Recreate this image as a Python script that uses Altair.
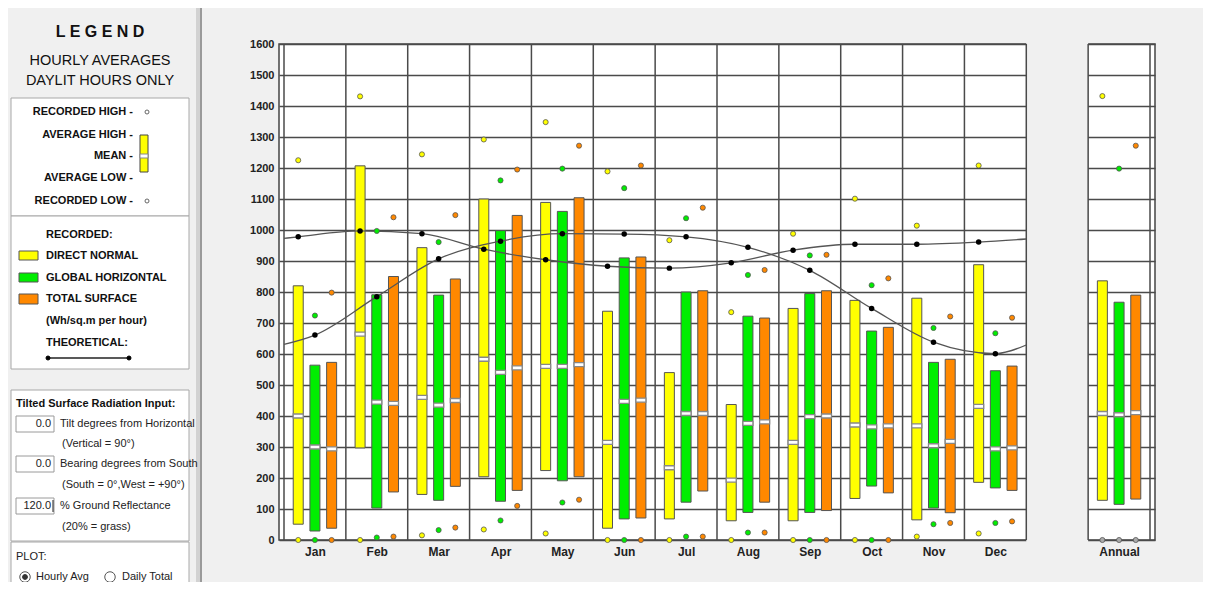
import altair as alt
import pandas as pd

# ---------------- data ----------------
months = ["Jan", "Feb", "Mar", "Apr", "May", "Jun", "Jul", "Aug", "Sep", "Oct", "Nov", "Dec"]
annual_label = "Annual"
series_names = ["DIRECT NORMAL", "GLOBAL HORIZONTAL", "TOTAL SURFACE"]
series_colors = ["#ffff00", "#00ee00", "#ff8800"]

dn_rec_high = [1225, 1431, 1244, 1292, 1348, 1189, 967, 735, 988, 1101, 1014, 1208]
dn_avg_high = [820, 1207, 943, 1100, 1089, 738, 540, 437, 747, 773, 780, 888]
dn_mean = [400, 664, 460, 583, 560, 315, 233, 193, 315, 371, 368, 431]
dn_avg_low = [51, 297, 147, 204, 224, 38, 68, 62, 62, 134, 65, 186]
dn_rec_low = [0, 0, 15, 34, 21, 0, 0, 0, 0, 0, 11, 21]

gh_rec_high = [724, 997, 961, 1160, 1198, 1135, 1038, 855, 918, 822, 684, 667]
gh_avg_high = [564, 791, 790, 998, 1060, 910, 800, 722, 795, 674, 573, 546]
gh_mean = [300, 445, 435, 541, 560, 447, 408, 376, 398, 365, 304, 294]
gh_avg_low = [29, 103, 128, 125, 191, 68, 122, 89, 89, 174, 103, 168]
gh_rec_low = [0, 8, 32, 63, 121, 0, 11, 24, 0, 0, 51, 55]

ts_rec_high = [798, 1041, 1048, 1195, 1272, 1208, 1072, 871, 920, 844, 721, 717]
ts_avg_high = [573, 850, 842, 1047, 1104, 913, 804, 716, 804, 686, 583, 561]
ts_mean = [294, 441, 450, 555, 566, 451, 408, 381, 400, 368, 318, 297]
ts_avg_low = [38, 155, 173, 160, 204, 71, 158, 122, 95, 152, 88, 160]
ts_rec_low = [0, 11, 40, 110, 130, 0, 11, 24, 0, 0, 55, 60]

annual_rec_high = [1432, 1198, 1272]
annual_avg_high = [836, 767, 790]
annual_mean = [408, 404, 411]
annual_avg_low = [128, 115, 132]
annual_rec_low = [0, 0, 0]

theo_a = [978, 997, 988, 938, 904, 883, 877, 894, 935, 954, 954, 961]
theo_a_edges = [973, 971]
theo_b = [661, 785, 907, 964, 988, 987, 978, 944, 870, 747, 638, 601]
theo_b_edges = [631, 629]

y_ticks = list(range(0, 1700, 100))

# ---------------- layout constants ----------------
OFFSETS = [0.23, 0.5, 0.77]
ANNUAL_POS = 13
W, H = 876, 496
VX0, VY0 = 279, 44  # page position of the plot origin
PAGE_R, PAGE_B = 1203, 582
GRID = "#4a4a4a"
BG = "#f0f0f0"
FONT = "Liberation Sans"
NARROW = "Liberation Sans Narrow, Liberation Sans"

# ---------------- tables ----------------
rows = []
sets = [
    (dn_rec_high, dn_avg_high, dn_mean, dn_avg_low, dn_rec_low),
    (gh_rec_high, gh_avg_high, gh_mean, gh_avg_low, gh_rec_low),
    (ts_rec_high, ts_avg_high, ts_mean, ts_avg_low, ts_rec_low),
]
for si, (hi, ah, mn, al, lo) in enumerate(sets):
    for mi, m in enumerate(months):
        rows.append(dict(period=m, series=series_names[si], x=mi + OFFSETS[si],
                         rec_high=hi[mi], avg_high=ah[mi], mean=mn[mi],
                         avg_low=al[mi], rec_low=lo[mi]))
    rows.append(dict(period=annual_label, series=series_names[si], x=ANNUAL_POS + OFFSETS[si],
                     rec_high=annual_rec_high[si], avg_high=annual_avg_high[si],
                     mean=annual_mean[si], avg_low=annual_avg_low[si],
                     rec_low=annual_rec_low[si]))
df = pd.DataFrame(rows)

theo_rows = []
for name, vals, edges, off in [("A", theo_a, theo_a_edges, OFFSETS[0]),
                               ("B", theo_b, theo_b_edges, OFFSETS[1])]:
    theo_rows.append(dict(curve=name, x=0, v=edges[0], dot=0))
    for mi, v in enumerate(vals):
        theo_rows.append(dict(curve=name, x=mi + off, v=v, dot=1))
    theo_rows.append(dict(curve=name, x=len(months), v=edges[1], dot=0))
theo_df = pd.DataFrame(theo_rows)

bounds_df = pd.DataFrame({"x": list(range(len(months) + 1)) + [ANNUAL_POS, ANNUAL_POS + 1]})
gap_df = pd.DataFrame({"x": [len(months)], "x2": [ANNUAL_POS]})

# ---------------- scales / axes ----------------
names_js = "[" + ",".join("'%s'" % m for m in months) + "]"
label_expr = f"datum.value > {len(months)} ? '{annual_label}' : {names_js}[floor(datum.value)]"
xscale = alt.Scale(domain=[0, ANNUAL_POS + 1], nice=False, zero=False)
xaxis = alt.Axis(values=[i + 0.5 for i in range(len(months))] + [ANNUAL_POS + 0.5],
                 labelExpr=label_expr, grid=False, ticks=False, domain=False,
                 labelFont=FONT, labelFontSize=12, labelFontWeight="bold",
                 labelColor="#222", labelPadding=6)
yscale = alt.Scale(domain=[0, 1600], nice=False, zero=False)
yaxis = alt.Axis(values=y_ticks, format="d", grid=True, gridColor=GRID, gridWidth=1.5,
                 ticks=False, domain=False, labelFont=FONT, labelFontSize=11,
                 labelFontWeight="bold", labelColor="#222", labelPadding=5)


def X(field="x"):
    return alt.X(f"{field}:Q", scale=xscale, axis=xaxis, title=None)


def Y(field):
    return alt.Y(f"{field}:Q", scale=yscale, axis=yaxis, title=None)


color_scale = alt.Scale(domain=series_names, range=series_colors)

gap = alt.Chart(gap_df).mark_rect(color=BG).encode(
    x=X(), x2="x2:Q", y=alt.value(-3), y2=alt.value(H + 3))
vrules = alt.Chart(bounds_df).mark_rule(color=GRID, strokeWidth=1.5).encode(
    x=X(), y=alt.value(0), y2=alt.value(H))
bars = alt.Chart(df).mark_bar(size=10, stroke="#555", strokeWidth=1).encode(
    x=X(), y=Y("avg_low"), y2="avg_high:Q",
    color=alt.Color("series:N", scale=color_scale, legend=None))
means = alt.Chart(df).mark_tick(orient="horizontal", size=10, thickness=4, fill="white",
                                stroke="#888", strokeWidth=1.3, opacity=1).encode(
    x=X(), y=Y("mean"))
highs = alt.Chart(df).mark_point(shape="circle", filled=True, size=26, stroke="#555",
                                 strokeWidth=0.8, opacity=1).encode(
    x=X(), y=Y("rec_high"),
    color=alt.Color("series:N", scale=color_scale, legend=None))
lows = alt.Chart(df).mark_point(shape="circle", filled=True, size=26, stroke="#555",
                                strokeWidth=0.8, opacity=1).encode(
    x=X(), y=Y("rec_low"),
    color=alt.condition(f"datum.period == '{annual_label}'", alt.value("#aaaaaa"),
                        alt.Color("series:N", scale=color_scale, legend=None)))
theo_line = alt.Chart(theo_df).mark_line(color="#555", strokeWidth=1.3,
                                         interpolate="monotone").encode(
    x=X(), y=Y("v"), detail="curve:N")
theo_dots = alt.Chart(theo_df).transform_filter("datum.dot == 1").mark_point(
    shape="circle", filled=True, size=30, color="black", opacity=1).encode(
    x=X(), y=Y("v"))

# ---------------- left legend panel (page coordinates) ----------------
one = pd.DataFrame({"k": [0]})


def px(v):
    return v - VX0


def py(v):
    return v - VY0


def txt(s, x, y, size=11, bold=True, align="left", font=NARROW, color="#111"):
    return alt.Chart(one).mark_text(text=s, align=align, baseline="middle", fontSize=size,
                                    fontWeight="bold" if bold else "normal", font=font,
                                    color=color).encode(x=alt.value(px(x)), y=alt.value(py(y)))


def box(x1, y1, x2, y2, fill, stroke, sw=1.0):
    return alt.Chart(one).mark_rect(fill=fill, stroke=stroke, strokeWidth=sw).encode(
        x=alt.value(px(x1)), x2=alt.value(px(x2)), y=alt.value(py(y1)), y2=alt.value(py(y2)))


def dot(x, y, size, fill, stroke, sw=1.0):
    return alt.Chart(one).mark_point(shape="circle", filled=True, size=size, fill=fill,
                                     stroke=stroke, strokeWidth=sw, opacity=1).encode(
        x=alt.value(px(x)), y=alt.value(py(y)))


def hline(x1, x2, y, color, sw):
    return alt.Chart(one).mark_rule(color=color, strokeWidth=sw).encode(
        x=alt.value(px(x1)), x2=alt.value(px(x2)), y=alt.value(py(y)))


def vline(x, y1, y2, color, sw):
    return alt.Chart(one).mark_rule(color=color, strokeWidth=sw).encode(
        x=alt.value(px(x)), y=alt.value(py(y1)), y2=alt.value(py(y2)))


legend = [
    box(196, 0, 202, 600, "#d2d2d2", "#d2d2d2", 0),
    vline(201, 0, 600, "#9a9a9a", 2),
    box(11, 98, 189, 216, "white", "#a8a8a8"),
    box(11, 216, 189, 369, "white", "#a8a8a8"),
    box(11, 390, 189, 541, "white", "#a8a8a8"),
    box(11, 542, 189, 600, "white", "#a8a8a8"),
    txt("L E G E N D", 100, 32, size=16, align="center", font=FONT),
    txt("HOURLY AVERAGES", 100, 61, size=14.5, bold=False, align="center", font=FONT),
    txt("DAYLIT HOURS ONLY", 100, 81, size=14.5, bold=False, align="center", font=FONT),
    txt("RECORDED HIGH -", 133, 112, align="right"),
    txt("AVERAGE HIGH -", 133, 135, align="right"),
    txt("MEAN -", 133, 156, align="right"),
    txt("AVERAGE LOW -", 133, 178, align="right"),
    txt("RECORDED LOW -", 133, 201, align="right"),
    dot(147, 112, 16, "white", "#666"),
    dot(147, 201, 16, "white", "#666"),
    box(140, 135, 148, 172, series_colors[0], "#444"),
    box(140, 154, 148, 158, "white", "#888"),
    txt("RECORDED:", 46, 235),
    box(19, 251, 38, 260, series_colors[0], "#555"),
    box(19, 273, 38, 282, series_colors[1], "#555"),
    box(19, 294, 38, 304, series_colors[2], "#555"),
    txt(series_names[0], 46, 256),
    txt(series_names[1], 46, 278),
    txt(series_names[2], 46, 299),
    txt("(Wh/sq.m per hour)", 46, 321),
    txt("THEORETICAL:", 46, 343),
    hline(48, 129, 358, "#222", 1.3),
    dot(48, 358, 16, "black", "black"),
    dot(129, 358, 16, "black", "black"),
    txt("Tilted Surface Radiation Input:", 16, 404),
    box(16, 416, 54, 432, "white", "#9a9a9a"),
    box(16, 456, 54, 472, "white", "#9a9a9a"),
    box(16, 498, 54, 514, "white", "#9a9a9a"),
    txt("0.0", 51, 424, bold=False, align="right", color="#222"),
    txt("0.0", 51, 464, bold=False, align="right", color="#222"),
    txt("120.0", 51, 506, bold=False, align="right", color="#222"),
    vline(53, 500, 512, "#222", 1),
    txt("Tilt degrees from Horizontal", 60, 424, bold=False, color="#222"),
    txt("(Vertical = 90°)", 62, 444, bold=False, color="#222"),
    txt("Bearing degrees from South", 60, 464, bold=False, color="#222"),
    txt("(South = 0°,West = +90°)", 62, 485, bold=False, color="#222"),
    txt("% Ground Reflectance", 60, 506, bold=False, color="#222"),
    txt("(20% = grass)", 62, 527, bold=False, color="#222"),
    txt("PLOT:", 16, 557, bold=False, color="#222"),
    dot(25, 577, 110, "white", "#555"),
    dot(25, 577, 24, "#333", "#333"),
    txt("Hourly Avg", 36, 577, bold=False, color="#222"),
    dot(110, 577, 110, "white", "#555"),
    txt("Daily Total", 122, 577, bold=False, color="#222"),
]

chart = alt.layer(
    gap, vrules, bars, means, theo_line, highs, lows, theo_dots, *legend
).properties(
    width=W, height=H,
    padding={"left": VX0 - 8, "top": VY0 - 8, "right": PAGE_R - (VX0 + W),
             "bottom": PAGE_B - (VY0 + H)},
    autosize=alt.AutoSizeParams(type="none"),
    background=BG,
).configure_view(fill="white", stroke="#444", strokeWidth=1.5)

chart.save("out.html", embed_options={"renderer": "svg", "actions": False})
